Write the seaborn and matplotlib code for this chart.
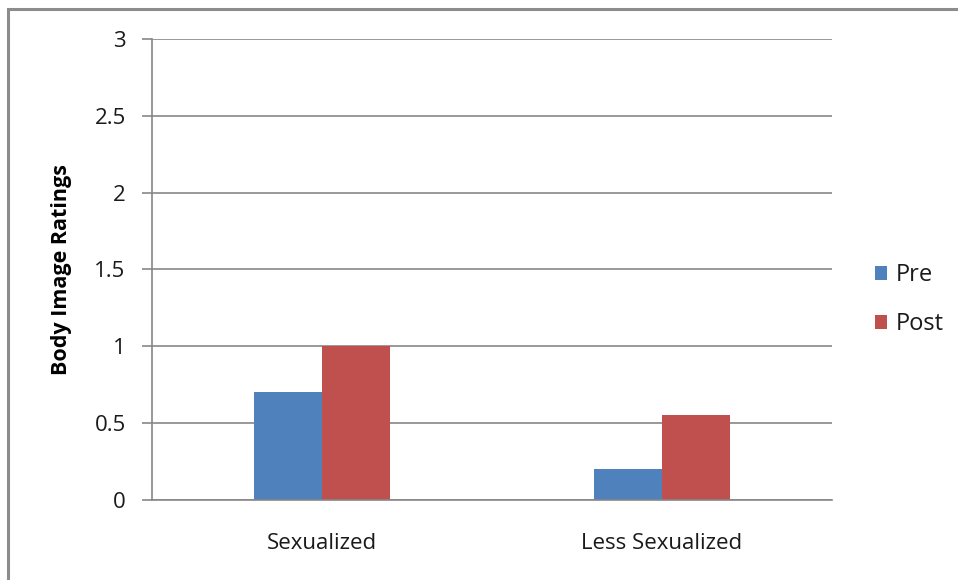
import matplotlib
matplotlib.use("Agg")
import matplotlib.pyplot as plt
import seaborn as sns
import pandas as pd
from matplotlib.patches import Rectangle, Patch

# Data
categories = ["Sexualized", "Less Sexualized"]
phases = ["Pre", "Post"]
pre_values = [0.7, 0.2]
post_values = [1.0, 0.55]
y_ticks = [0, 0.5, 1, 1.5, 2, 2.5, 3]
y_tick_labels = ["0", "0.5", "1", "1.5", "2", "2.5", "3"]

df = pd.DataFrame({
    "Condition": categories * 2,
    "Phase": [phases[0]] * len(categories) + [phases[1]] * len(categories),
    "Rating": pre_values + post_values,
})

sns.set_theme(style="white")
plt.rcParams["font.family"] = ["Open Sans", "DejaVu Sans"]

palette = {"Pre": "#4f81bd", "Post": "#c0504d"}
grid_color = "#878787"
text_color = "#1a1a1a"

fig = plt.figure(figsize=(9.58, 5.8), dpi=100)
ax = fig.add_axes([0.1587, 0.1379, 0.8685 - 0.1587, 0.9328 - 0.1379])

sns.barplot(data=df, x="Condition", y="Rating", hue="Phase", order=categories,
            hue_order=phases, palette=palette, width=0.4, saturation=1,
            edgecolor="none", ax=ax, legend=False)

ax.set_xlim(-0.5, 1.5)
ax.set_ylim(0, 3)
ax.set_yticks(y_ticks)
ax.set_yticklabels(y_tick_labels)
ax.yaxis.grid(True, color=grid_color, linewidth=1.2)
ax.set_axisbelow(True)

for side in ["top", "right"]:
    ax.spines[side].set_visible(False)
for side in ["left", "bottom"]:
    ax.spines[side].set_color(grid_color)
    ax.spines[side].set_linewidth(1.2)

ax.tick_params(axis="y", which="both", left=True, length=7, width=1.2,
               color=grid_color, labelsize=16, labelcolor=text_color, pad=12)
ax.tick_params(axis="x", which="both", bottom=False, labelsize=16,
               labelcolor=text_color, pad=18)

ax.set_xlabel("")
ax.set_ylabel("Body Image Ratings", fontsize=15.5, fontweight="bold",
              color="black", labelpad=16)

handles = [Patch(facecolor=palette[p], edgecolor="none") for p in phases]
fig.legend(handles, phases, loc="center left", bbox_to_anchor=(0.891, 0.483),
           frameon=False, fontsize=17, handlelength=0.5, handleheight=0.5,
           handletextpad=0.4, labelspacing=1.05, labelcolor=text_color)

# outer chart-area frame
fig.patches.append(Rectangle((8 / 958, -0.1), 1.2, 1 - 8.5 / 580 + 0.1,
                             transform=fig.transFigure, fill=False,
                             edgecolor="#8c8c8c", linewidth=2.2))

fig.savefig("out.png", dpi=100, facecolor="white")
